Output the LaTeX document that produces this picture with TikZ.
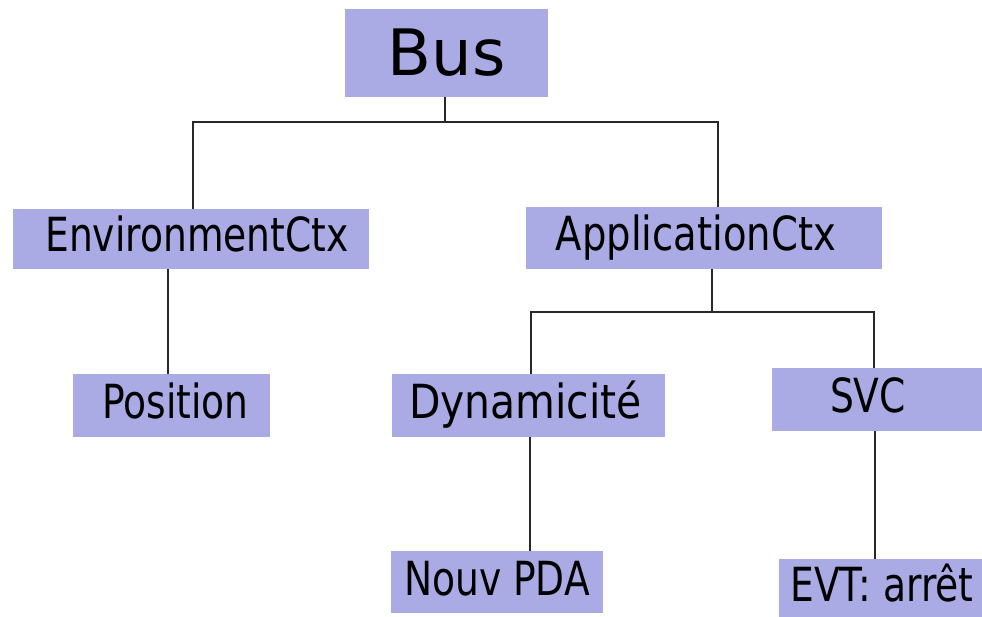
\documentclass[tikz,border=0pt]{standalone}
\usepackage{fontspec}
\setmainfont{DejaVu Sans}
\newfontfamily\cndfont[FakeStretch=0.8]{DejaVu Sans}
\newfontfamily\cndwidefont[FakeStretch=0.87]{DejaVu Sans}
\definecolor{boxfill}{RGB}{170,170,228}
\definecolor{linecol}{RGB}{40,40,40}
\begin{document}
\begin{tikzpicture}[x=1pt,y=-1pt,
  box/.style={fill=boxfill, draw=none, inner sep=0pt, rectangle,
    font=\cndfont\fontsize{47}{50}\selectfont, text=black,
    text height=34pt, text depth=8pt},
  bigbox/.style={fill=boxfill, draw=none, inner sep=0pt, rectangle,
    font=\fontsize{64}{70}\selectfont, text=black,
    text height=47pt, text depth=2pt},
  conn/.style={draw=linecol, line width=2.4pt}]
\useasboundingbox (0,0) rectangle (982,617);

\node[bigbox, minimum width=203pt, minimum height=88pt] (bus) at (446.5,53) {Bus};
\node[box, minimum width=356pt, minimum height=60pt] (env) at (191,239) {\hspace*{12pt}EnvironmentCtx};
\node[box, minimum width=356pt, minimum height=62pt] (app) at (704,238) {\fontspec[FakeStretch=0.82]{DejaVu Sans}ApplicationCtx\hspace*{16pt}};
\node[box, minimum width=197pt, minimum height=63pt] (pos) at (171.5,405.5) {\hspace*{8pt}Position};
\node[box, minimum width=273pt, minimum height=63pt] (dyn) at (528.5,405.5) {\cndwidefont Dynamicité\hspace*{6pt}};
\node[box, minimum width=210pt, minimum height=63pt] (svc) at (877,399.5) {SVC\hspace*{18pt}};
\node[box, minimum width=212pt, minimum height=62pt] (pda) at (497,582) {Nouv PDA};
\node[box, minimum width=203pt, minimum height=58pt] (evt) at (880.5,588) {\hspace*{3pt}EVT: arrêt};

% Bus branch
\coordinate (bM) at (445,122);
\coordinate (bL) at (193,122);
\coordinate (bR) at (718,122);
\draw[conn] (bus.south -| bM) -- (bM);
\draw[conn] (env.north -| bL) -- (bL) -- (bR) -- (app.north -| bR);

% Environment branch
\coordinate (eX) at (168,0);
\draw[conn] (env.south -| eX) -- (pos.north -| eX);

% Application branch
\coordinate (aM) at (712,312);
\coordinate (aL) at (531,312);
\coordinate (aR) at (874,312);
\draw[conn] (app.south -| aM) -- (aM);
\draw[conn] (dyn.north -| aL) -- (aL) -- (aR) -- (svc.north -| aR);

% Leaves
\coordinate (dX) at (530,0);
\draw[conn] (dyn.south -| dX) -- (pda.north -| dX);
\coordinate (sX) at (875,0);
\draw[conn] (svc.south -| sX) -- (evt.north -| sX);
\end{tikzpicture}
\end{document}
